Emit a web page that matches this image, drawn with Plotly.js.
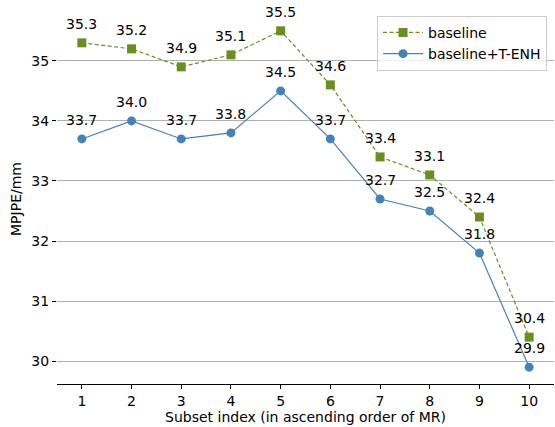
<!DOCTYPE html>
<html><head><meta charset="utf-8">
<script src="https://cdn.plot.ly/plotly-3.0.1.min.js"></script>
<style>html,body{margin:0;padding:0;background:#fff}#chart{width:555px;height:427px}</style>
</head><body><div id="chart"></div>
<script>
const subsets = [1,2,3,4,5,6,7,8,9,10];
const baseline = [35.3,35.2,34.9,35.1,35.5,34.6,33.4,33.1,32.4,30.4];
const tenh = [33.7,34.0,33.7,33.8,34.5,33.7,32.7,32.5,31.8,29.9];
const seriesNames = ['baseline','baseline+T-ENH'];
const yTicks = [30,31,32,33,34,35];

const font = 'DejaVu Sans, sans-serif';
const traces = [
  {x: subsets, y: baseline, name: seriesNames[0], mode: 'lines+markers',
   line: {color: '#6b8e23', width: 1.2, dash: '4px,2.5px'},
   marker: {symbol: 'square', size: 9, color: '#6b8e23'}},
  {x: subsets, y: tenh, name: seriesNames[1], mode: 'lines+markers',
   line: {color: '#4682b4', width: 1.2},
   marker: {symbol: 'circle', size: 9, color: '#4682b4'}}
];
const annotations = [];
[baseline, tenh].forEach(arr => arr.forEach((v,i) => {
  annotations.push({x: subsets[i], y: v, text: v.toFixed(1), showarrow: false,
    yshift: 19, font: {family: font, size: 14, color: '#000'}, xref: 'x', yref: 'y'});
}));
const layout = {
  width: 555, height: 427,
  margin: {l: 57, r: 1, t: 14, b: 43},
  paper_bgcolor: '#fff', plot_bgcolor: '#fff',
  font: {family: font, size: 14, color: '#000'},
  showlegend: true,
  legend: {x: 0.986, xanchor: 'right', y: 0.995, yanchor: 'top',
    bordercolor: '#cccccc', borderwidth: 1, bgcolor: 'rgba(255,255,255,0.8)',
    font: {family: font, size: 14}, tracegroupgap: 0, itemwidth: 40},
  xaxis: {range: [0.5, 10.5], tickvals: subsets, ticks: 'outside', ticklen: 4,
    tickcolor: '#000', showline: true, linecolor: '#000', linewidth: 1.2,
    showgrid: false, zeroline: false,
    title: {text: 'Subset index (in ascending order of MR)', font: {family: font, size: 14}, standoff: 4}},
  yaxis: {range: [29.62, 35.78], tickvals: yTicks, ticks: 'outside', ticklen: 4,
    tickcolor: '#000', showline: false, showgrid: true, gridcolor: '#b0b0b0', gridwidth: 1,
    zeroline: false,
    title: {text: 'MPJPE/mm', font: {family: font, size: 14}, standoff: 6}},
  annotations: annotations
};
Plotly.newPlot('chart', traces, layout, {displayModeBar: false, staticPlot: true});
</script></body></html>
